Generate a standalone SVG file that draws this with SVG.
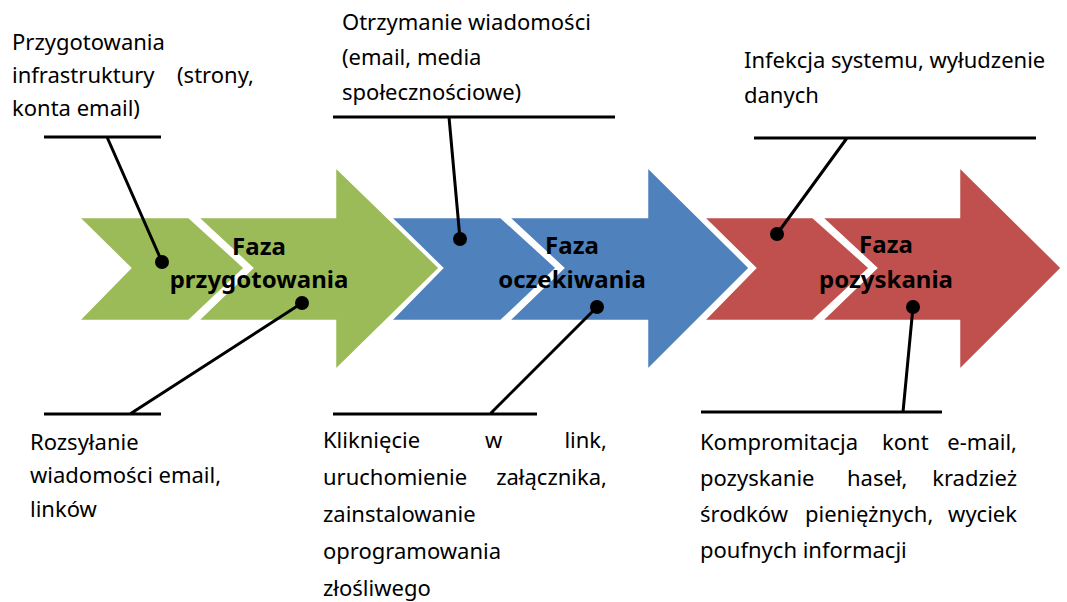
<svg xmlns="http://www.w3.org/2000/svg" width="1067" height="602" viewBox="0 0 1067 602">
<style>
.g{fill:#9BBB59;stroke:#fff;stroke-width:2.5;stroke-linejoin:miter}
.b{fill:#4F81BD;stroke:#fff;stroke-width:2.5}
.r{fill:#C0504D;stroke:#fff;stroke-width:2.5}
.ln{stroke:#000;stroke-width:3;fill:none}
.dot{fill:#000}
.t{font-family:"Noto Sans","Open Sans",sans-serif;font-size:22px;fill:#000}
.e{text-anchor:end}
.h{font-family:"Noto Sans","Open Sans",sans-serif;font-size:24px;font-weight:bold;fill:#000;text-anchor:middle}
</style>
<rect width="1067" height="602" fill="#fff"/>
<g id="phase-pozyskania">
<polygon class="r" points="703,217 813,217 870,268 813,321 703,321 755,268"/>
<polygon class="r" points="821,217 959,217 959,166 1062,268 959,371 959,321 821,321 876,268"/>
<text class="h" x="886" y="253">Faza</text>
<text class="h" x="886" y="288">pozyskania</text>
</g>
<g id="phase-oczekiwania">
<polygon class="b" points="390,217 501,217 557,268 501,321 390,321 442,268"/>
<polygon class="b" points="508,217 647,217 647,166 750,268 647,371 647,321 508,321 563,268"/>
<text class="h" x="572" y="254">Faza</text>
<text class="h" x="572" y="288">oczekiwania</text>
</g>
<g id="phase-przygotowania">
<polygon class="g" points="78,217 189,217 245,268 189,321 78,321 130,268"/>
<polygon class="g" points="197,217 335,217 335,166 440,268 335,371 335,321 197,321 252,268"/>
<text class="h" x="259" y="255">Faza</text>
<text class="h" x="259" y="288">przygotowania</text>
</g>
<g id="connectors">
<path class="ln" d="M44,137 H161 M107,137 L162,262"/>
<path class="ln" d="M333,117 H615 M449,117 L460,239"/>
<path class="ln" d="M754,138 H1036 M847,138 L777,234"/>
<path class="ln" d="M44,414 H161 M130,414 L302,303"/>
<path class="ln" d="M333,414 H537 M490,414 L597,307"/>
<path class="ln" d="M701,412 H942 M903,412 L913,307"/>
<circle class="dot" cx="162" cy="262" r="7"/>
<circle class="dot" cx="302" cy="303" r="7"/>
<circle class="dot" cx="460" cy="239" r="7"/>
<circle class="dot" cx="597" cy="307" r="7"/>
<circle class="dot" cx="777" cy="234" r="7"/>
<circle class="dot" cx="913" cy="307" r="7"/>
</g>
<g id="label-infrastruktura">
<text class="t" x="12" y="50">Przygotowania</text>
<text class="t" x="12" y="83">infrastruktury<tspan x="177">(strony,</tspan></text>
<text class="t" x="12" y="116">konta email)</text>
</g>
<g id="label-otrzymanie">
<text class="t" x="342" y="30">Otrzymanie wiadomości</text>
<text class="t" x="342" y="65">(email, media</text>
<text class="t" x="342" y="100">społecznościowe)</text>
</g>
<g id="label-infekcja">
<text class="t" x="744" y="68">Infekcja systemu, wyłudzenie</text>
<text class="t" x="744" y="103">danych</text>
</g>
<g id="label-rozsylanie">
<text class="t" x="30" y="450">Rozsyłanie</text>
<text class="t" x="30" y="483">wiadomości email,</text>
<text class="t" x="30" y="517">linków</text>
</g>
<g id="label-klikniecie">
<text class="t" x="323" y="448">Kliknięcie<tspan x="485">w</tspan></text>
<text class="t e" x="607" y="448">link,</text>
<text class="t" x="323" y="485">uruchomienie</text>
<text class="t e" x="607" y="485">załącznika,</text>
<text class="t" x="323" y="522">zainstalowanie</text>
<text class="t" x="323" y="559">oprogramowania</text>
<text class="t" x="323" y="596">złośliwego</text>
</g>
<g id="label-kompromitacja">
<text class="t" x="700" y="450">Kompromitacja<tspan x="882">kont</tspan></text>
<text class="t e" x="1017" y="450">e-mail,</text>
<text class="t" x="700" y="486">pozyskanie<tspan x="847">haseł,</tspan></text>
<text class="t e" x="1017" y="486">kradzież</text>
<text class="t" x="700" y="522">środków<tspan x="805">pieniężnych,</tspan></text>
<text class="t e" x="1017" y="522">wyciek</text>
<text class="t" x="700" y="558">poufnych informacji</text>
</g>
</svg>
